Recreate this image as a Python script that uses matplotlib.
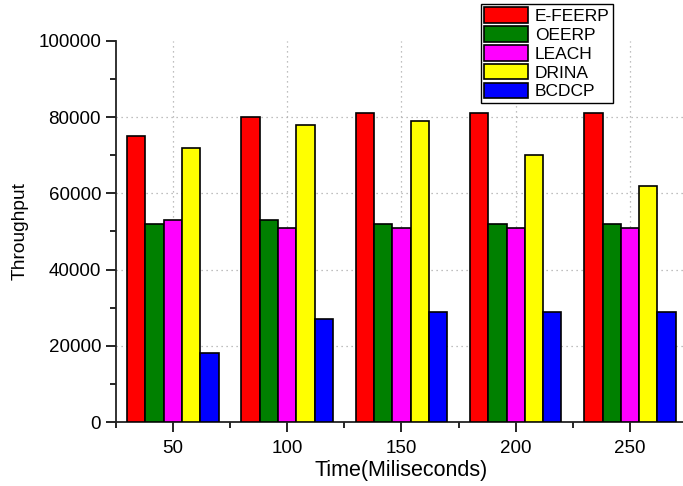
import numpy as np
import matplotlib.pyplot as plt
from matplotlib.ticker import MultipleLocator, FixedLocator

plt.rcParams['font.family'] = ['Liberation Sans', 'DejaVu Sans']

# throughput per protocol at each time step
times = [50, 100, 150, 200, 250]
protocols = ['E-FEERP', 'OEERP', 'LEACH', 'DRINA', 'BCDCP']
e_feerp = [75000, 80000, 81000, 81000, 81000]
oeerp = [52000, 53000, 52000, 52000, 52000]
leach = [53000, 51000, 51000, 51000, 51000]
drina = [72000, 78000, 79000, 70000, 62000]
bcdcp = [18000, 27000, 29000, 29000, 29000]
colors = ['#ff0000', '#008000', '#ff00ff', '#ffff00', '#0000ff']

series = [e_feerp, oeerp, leach, drina, bcdcp]

fig = plt.figure(figsize=(6.83, 4.86), dpi=100)
ax = fig.add_axes([115.7/683, 64/486, 571.5/683, 381/486])

w = 8
x = np.array(times)
for i, (vals, name, c) in enumerate(zip(series, protocols, colors)):
    ax.bar(x + (i - 2) * w, vals, width=w, color=c, edgecolor='black',
           linewidth=1.2, label=name, zorder=3)

ax.set_xlim(25, 275)
ax.set_ylim(0, 100000)
ax.set_xticks(times)
ax.xaxis.set_minor_locator(FixedLocator([25, 75, 125, 175, 225, 275]))
ax.yaxis.set_major_locator(MultipleLocator(20000))
ax.yaxis.set_minor_locator(MultipleLocator(10000))

# dotted grid, no line along the top
grid_kw = dict(linestyle=(0, (1, 3)), color='#aaaaaa', linewidth=0.9, zorder=0)
for yv in [20000, 40000, 60000, 80000]:
    ax.axhline(yv, **grid_kw)
for xv in times:
    ax.axvline(xv, **grid_kw)

for s in ['top', 'right']:
    ax.spines[s].set_visible(False)
for s in ['left', 'bottom']:
    ax.spines[s].set_linewidth(1.3)
    ax.spines[s].set_color('#222222')

ax.tick_params(which='major', direction='out', length=7, width=1.2, labelsize=13.5)
ax.tick_params(axis='x', which='major', pad=6)
ax.tick_params(which='minor', direction='out', length=4, width=1.2)

ax.set_ylabel('Throughput', fontsize=13.8, labelpad=7)
ax.set_xlabel('Time(Miliseconds)', fontsize=15.5, labelpad=2)

leg = fig.legend(loc='upper left', bbox_to_anchor=(481/683, 1 - 4/486),
                 fontsize=12.5, frameon=True, fancybox=False, framealpha=1,
                 edgecolor='black', handlelength=2.5, handleheight=1.0,
                 labelspacing=0.12, handletextpad=0.4, borderpad=0.2,
                 borderaxespad=0)
leg.get_frame().set_linewidth(1.0)

fig.savefig('out.png', dpi=100)
